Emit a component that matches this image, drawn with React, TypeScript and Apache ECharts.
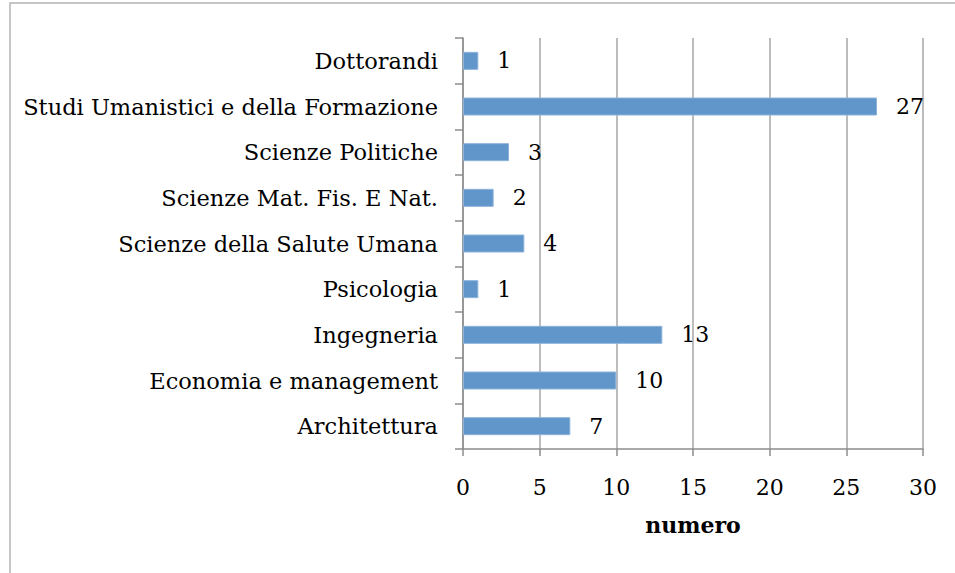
import React, { useEffect, useRef } from "react";
import * as echarts from "echarts";

const categories = [
  "Architettura",
  "Economia e management",
  "Ingegneria",
  "Psicologia",
  "Scienze della Salute Umana",
  "Scienze Mat. Fis. E Nat.",
  "Scienze Politiche",
  "Studi Umanistici e della Formazione",
  "Dottorandi",
];
const values = [7, 10, 13, 1, 4, 2, 3, 27, 1];
const xTicks = { min: 0, max: 30, interval: 5 };
const axisTitle = "numero";

const FONT = "DejaVu Serif";

export default function App() {
  const ref = useRef<HTMLDivElement>(null);
  useEffect(() => {
    document.body.style.margin = "0";
    const chart = echarts.init(ref.current!, null, { renderer: "svg" });
    chart.setOption({
      animation: false,
      backgroundColor: "#ffffff",
      textStyle: { fontFamily: FONT },
      graphic: [
        {
          type: "rect",
          shape: { x: 10, y: 3, width: 1000, height: 700 },
          style: { fill: "none", stroke: "#b4b4b4", lineWidth: 1.5 },
          silent: true,
          z: -1,
        },
      ],
      grid: { left: 463, right: 32, top: 38, bottom: 124, containLabel: false },
      xAxis: {
        type: "value",
        min: xTicks.min,
        max: xTicks.max,
        interval: xTicks.interval,
        name: axisTitle,
        nameLocation: "middle",
        nameGap: 65,
        nameTextStyle: { fontFamily: FONT, fontSize: 22, fontWeight: "bold", color: "#000" },
        axisLine: { show: true, lineStyle: { color: "#8c8c8c", width: 1.5 } },
        axisTick: { show: true, length: 7, lineStyle: { color: "#8c8c8c", width: 1.5 } },
        axisLabel: { fontFamily: FONT, fontSize: 22, color: "#000", margin: 27 },
        splitLine: { show: true, lineStyle: { color: "#a6a6a6", width: 1.5 } },
      },
      yAxis: {
        type: "category",
        data: categories,
        axisLine: { show: true, lineStyle: { color: "#8c8c8c", width: 1.5 } },
        axisTick: { show: true, length: 8, lineStyle: { color: "#8c8c8c", width: 1.5 } },
        axisLabel: { fontFamily: FONT, fontSize: 22.5, color: "#000", margin: 25 },
        splitLine: { show: false },
      },
      series: [
        {
          type: "bar",
          data: values,
          barWidth: 18,
          itemStyle: { color: "#6096c9", borderColor: "#8db3db", borderWidth: 1 },
          label: {
            show: true,
            position: "right",
            distance: 19,
            fontFamily: FONT,
            fontSize: 22,
            color: "#000",
          },
        },
      ],
    });
    return () => chart.dispose();
  }, []);
  return (
    <div
      ref={ref}
      style={{ position: "absolute", left: 0, top: 0, width: 955, height: 573 }}
    />
  );
}
